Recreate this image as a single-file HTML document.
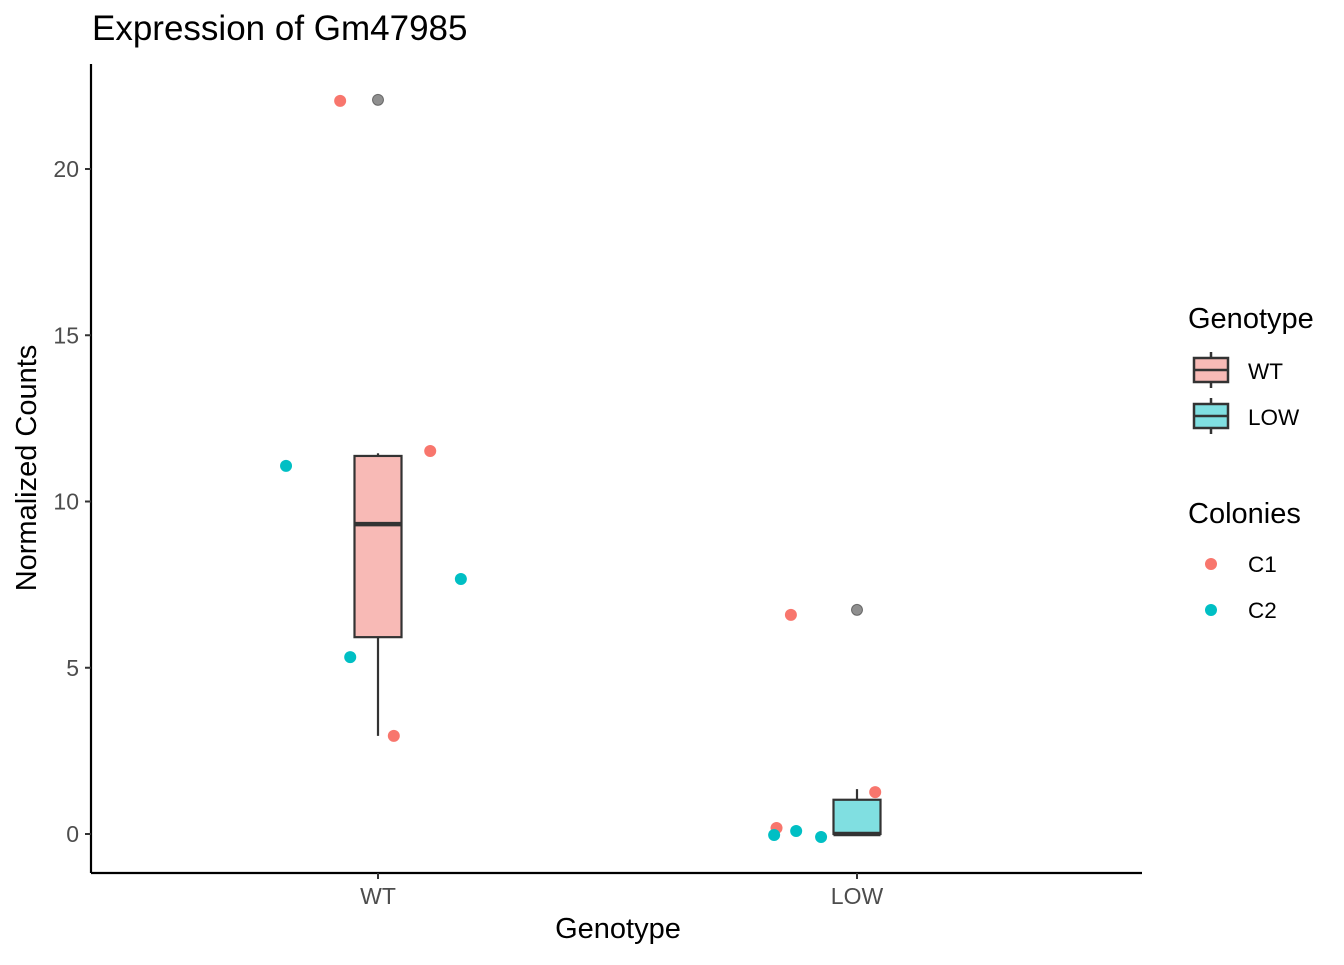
<!DOCTYPE html>
<html><head><meta charset="utf-8"><style>
body{margin:0;background:#fff;font-family:"Liberation Sans",sans-serif;}
text{font-family:"Liberation Sans",sans-serif;}
</style></head><body>
<svg id="chart" width="1344" height="960" xmlns="http://www.w3.org/2000/svg">
<text x="92" y="40" font-size="35" fill="#000">Expression of Gm47985</text>
<g id="axes"></g>
<g id="marks"></g>
<text x="618" y="938" font-size="29" text-anchor="middle">Genotype</text>
<text transform="translate(36,468) rotate(-90)" font-size="29" text-anchor="middle">Normalized Counts</text>
<g>
<text x="1188" y="328" font-size="29">Genotype</text>
<g>
<line x1="1211" y1="352" x2="1211" y2="388" stroke="#333" stroke-width="2.5"/>
<rect x="1194" y="358" width="34" height="24" fill="#F8BAB6" stroke="#333" stroke-width="2.5"/>
<line x1="1194" y1="370" x2="1228" y2="370" stroke="#333" stroke-width="2.5"/>
<text x="1248" y="379" font-size="22.5">WT</text></g>
<g>
<line x1="1211" y1="398" x2="1211" y2="434" stroke="#333" stroke-width="2.5"/>
<rect x="1194" y="404" width="34" height="24" fill="#80DFE1" stroke="#333" stroke-width="2.5"/>
<line x1="1194" y1="416" x2="1228" y2="416" stroke="#333" stroke-width="2.5"/>
<text x="1248" y="425" font-size="22.5">LOW</text></g>
</g>
<g>
<text x="1188" y="523" font-size="29">Colonies</text>
<g><circle cx="1211" cy="564" r="6" fill="#F8766D"/><text x="1248" y="572" font-size="22.5">C1</text></g>
<g><circle cx="1211" cy="610" r="6" fill="#00BFC4"/><text x="1248" y="618" font-size="22.5">C2</text></g>
</g>
</svg>
<script>
const categories=["WT","LOW"];
const yTicks=[0,5,10,15,20];
const boxQ1=[5.92,0.0];
const boxMedian=[9.32,0.0];
const boxQ3=[11.37,1.03];
const whiskerLow=[2.95,0.0];
const whiskerHigh=[11.45,1.35];
const outlierValues=[22.08,6.74];
const c1Group=[0,0,0,1,1,1];
const c1Offset=[-0.079,0.109,0.033,-0.138,-0.168,0.038];
const c1Values=[22.05,11.52,2.95,6.59,0.18,1.26];
const c2Group=[0,0,0,1,1,1];
const c2Offset=[-0.192,0.173,-0.058,-0.173,-0.127,-0.075];
const c2Values=[11.07,7.67,5.32,-0.03,0.09,-0.09];
const boxFill=["#F8BAB6","#80DFE1"];

const NS="http://www.w3.org/2000/svg";
const X0=91,X1=1142,Y0=64,Y1=873;
function xs(i){return 378+i*479;}
function ys(v){return 834-v*33.25;}
function mk(tag,attrs,parent){const e=document.createElementNS(NS,tag);for(const k in attrs)e.setAttribute(k,attrs[k]);parent.appendChild(e);return e;}
const axes=document.getElementById('axes'),marks=document.getElementById('marks');
let a=mk('line',{x1:X0,y1:Y0,x2:X0,y2:Y1,stroke:'#000','stroke-width':2.2},axes);


a=mk('line',{x1:X0,y1:Y1,x2:X1,y2:Y1,stroke:'#000','stroke-width':2.2},axes);


yTicks.forEach(t=>{
 mk('line',{x1:X0-6,x2:X0,y1:ys(t),y2:ys(t),stroke:'#333','stroke-width':2},axes);
 const tx=mk('text',{x:X0-12,y:ys(t)+8,'font-size':23,fill:'#4d4d4d','text-anchor':'end'},axes);tx.textContent=t;
 
 
});
categories.forEach((c,i)=>{
 mk('line',{x1:xs(i),x2:xs(i),y1:Y1,y2:Y1+6,stroke:'#333','stroke-width':2},axes);
 const tx=mk('text',{x:xs(i),y:Y1+31,'font-size':23,fill:'#4d4d4d','text-anchor':'middle'},axes);tx.textContent=c;
 
 
 const g=mk('g',{},marks);
 
 
 const hw=23.5;
 mk('line',{x1:xs(i),x2:xs(i),y1:ys(whiskerLow[i]),y2:ys(boxQ1[i]),stroke:'#333','stroke-width':2.2},g);
 mk('line',{x1:xs(i),x2:xs(i),y1:ys(boxQ3[i]),y2:ys(whiskerHigh[i]),stroke:'#333','stroke-width':2.2},g);
 mk('rect',{x:xs(i)-hw,y:ys(boxQ3[i]),width:2*hw,height:ys(boxQ1[i])-ys(boxQ3[i]),fill:boxFill[i],stroke:'#333','stroke-width':2.2},g);
 mk('line',{x1:xs(i)-hw,x2:xs(i)+hw,y1:ys(boxMedian[i]),y2:ys(boxMedian[i]),stroke:'#333','stroke-width':4.5},g);
 const o=mk('circle',{cx:xs(i),cy:ys(outlierValues[i]),r:5.5,fill:'#333','fill-opacity':0.55,stroke:'#333','stroke-opacity':0.6},marks);
 
 
});
function pts(grp,off,vals,col,name){
 vals.forEach((v,k)=>{
  const p=mk('circle',{cx:xs(grp[k]+off[k]),cy:ys(v),r:6,fill:col},marks);
  
  
 });
}
pts(c1Group,c1Offset,c1Values,'#F8766D','point-c1');
pts(c2Group,c2Offset,c2Values,'#00BFC4','point-c2');
</script>
</body></html>
